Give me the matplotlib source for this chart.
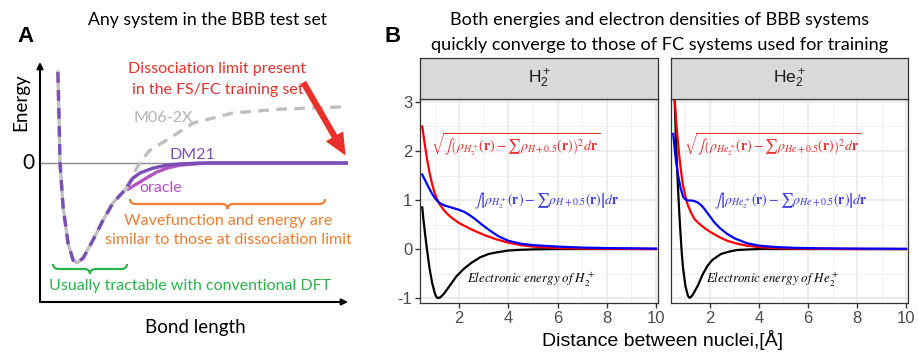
import matplotlib
matplotlib.use("Agg")
import matplotlib.pyplot as plt
from matplotlib.patches import FancyArrowPatch, PathPatch
from matplotlib.path import Path
from matplotlib.transforms import Affine2D

plt.rcParams["mathtext.fontset"] = "stix"
plt.rcParams["axes.unicode_minus"] = False

W, H = 918, 355

# ---- panel A : schematic curves (bond length 0..10, energy in arbitrary units)
well_x = [0.58, 0.62, 0.65, 0.75, 0.91, 1.07, 1.20, 1.40, 1.72, 2.05, 2.37, 2.82]
well_y = [3.03, 1.43, 0.0, -1.47, -2.67, -3.23, -3.33, -3.17, -2.57, -1.90, -1.33, -0.83]
m06_x = [2.82, 3.02, 3.25, 3.57, 4.12, 4.97, 6.27, 7.89, 9.84]
m06_y = [-0.83, -0.40, 0.03, 0.43, 0.77, 1.33, 1.67, 1.80, 1.87]
dm21_x = [2.82, 3.02, 3.25, 3.67, 4.12, 4.55, 5.19, 10.0]
dm21_y = [-0.80, -0.50, -0.33, -0.17, -0.07, -0.03, 0.0, 0.0]
oracle_x = [2.82, 3.02, 3.25, 3.57, 3.80, 4.12, 4.55, 5.42, 10.0]
oracle_y = [-0.90, -0.77, -0.63, -0.43, -0.30, -0.17, -0.07, 0.0, 0.0]

# ---- panel B : H2+ facet
h2_red_x = [0.5, 0.6, 0.7, 0.8, 0.9, 1.0, 1.1, 1.2, 1.4, 1.6, 1.8, 2.0, 2.5, 3.0, 3.5,
            4.0, 4.5, 5.0, 6.0, 7.0, 8.0, 10.0]
h2_red_y = [2.5, 2.15, 1.82, 1.55, 1.33, 1.15, 1.02, 0.92, 0.78, 0.68, 0.60, 0.53, 0.40,
            0.29, 0.20, 0.13, 0.08, 0.05, 0.02, 0.01, 0.005, 0.0]
h2_blue_x = [0.5, 0.6, 0.7, 0.8, 0.9, 1.0, 1.1, 1.2, 1.4, 1.6, 1.8, 2.0, 2.2, 2.4, 2.6,
             2.8, 3.0, 3.3, 3.6, 4.0, 4.5, 5.0, 6.0, 7.0, 8.0, 10.0]
h2_blue_y = [1.52, 1.42, 1.32, 1.22, 1.13, 1.05, 0.99, 0.94, 0.89, 0.86, 0.83, 0.80, 0.76,
             0.70, 0.63, 0.55, 0.47, 0.36, 0.26, 0.17, 0.11, 0.08, 0.05, 0.03, 0.02, 0.01]
h2_black_x = [0.5, 0.55, 0.6, 0.65, 0.7, 0.75, 0.8, 0.9, 1.0, 1.05, 1.1, 1.15, 1.25, 1.4,
              1.5, 1.7, 1.9, 2.2, 2.5, 2.85, 3.2, 3.5, 4.0, 4.5, 5.0, 6.0, 8.0, 10.0]
h2_black_y = [0.85, 0.6, 0.38, 0.17, -0.03, -0.22, -0.40, -0.68, -0.88, -0.95, -0.99, -1.0,
              -0.98, -0.90, -0.83, -0.69, -0.55, -0.40, -0.28, -0.17, -0.10, -0.07, -0.03,
              -0.015, -0.007, 0.0, 0.0, 0.0]

# ---- panel B : He2+ facet
he2_red_x = [0.5, 0.56, 0.63, 0.7, 0.76, 0.83, 0.9, 1.0, 1.1, 1.25, 1.37, 1.6, 1.8, 2.04,
             2.4, 2.7, 3.1, 3.5, 4.0, 4.7, 5.5, 6.5, 8.0, 10.0]
he2_red_y = [3.8, 3.07, 2.53, 2.15, 1.84, 1.55, 1.30, 1.07, 0.89, 0.72, 0.61, 0.50, 0.42,
             0.34, 0.24, 0.17, 0.11, 0.07, 0.04, 0.02, 0.01, 0.005, 0.0, 0.0]
he2_blue_x = [0.5, 0.55, 0.6, 0.7, 0.8, 0.9, 1.0, 1.1, 1.23, 1.35, 1.5, 1.65, 1.77, 1.95,
              2.17, 2.4, 2.7, 3.0, 3.5, 4.0, 4.7, 5.5, 6.5, 8.0, 10.0]
he2_blue_y = [2.35, 2.10, 1.85, 1.50, 1.25, 1.07, 1.01, 0.99, 0.99, 0.98, 0.95, 0.89, 0.82,
              0.70, 0.55, 0.43, 0.31, 0.22, 0.12, 0.07, 0.04, 0.025, 0.015, 0.01, 0.005]
he2_black_x = [0.5, 0.55, 0.6, 0.65, 0.7, 0.75, 0.8, 0.85, 0.9, 1.0, 1.1, 1.15, 1.2, 1.3,
               1.5, 1.7, 1.9, 2.1, 2.45, 2.8, 3.1, 3.5, 4.0, 5.0, 10.0]
he2_black_y = [4.4, 3.2, 2.4, 1.75, 1.2, 0.72, 0.30, -0.08, -0.38, -0.76, -0.95, -0.99,
               -0.99, -0.93, -0.75, -0.52, -0.34, -0.22, -0.10, -0.05, -0.02, -0.01, 0.0,
               0.0, 0.0]

x_ticks = [2, 4, 6, 8, 10]
y_ticks = [-1, 0, 1, 2, 3]

RED_A = "#E8312A"
ORANGE = "#EE7D31"
GREEN = "#2BB24C"
PURPLE = "#7A4FB5"
ORACLE = "#B352C0"
GREY = "#BFBFBF"

fig = plt.figure(figsize=(W / 100, H / 100), dpi=100)
px = Affine2D().scale(1 / W, -1 / H).translate(0, 1) + fig.transFigure


def fig_axes(x0, y0, x1, y1):
    return fig.add_axes([x0 / W, 1 - y1 / H, (x1 - x0) / W, (y1 - y0) / H])


def txt(x, y, s, **kw):
    kw.setdefault("ha", "center")
    kw.setdefault("va", "center")
    fig.text(x, y, s, transform=px, **kw)


def brace(x0, x1, y0, depth, color):
    h = depth / 2
    xm = (x0 + x1) / 2
    r = min(6, (x1 - x0) / 6)
    verts = [(x0, y0), (x0, y0 + h), (x0 + r, y0 + h),
             (xm - r, y0 + h),
             (xm, y0 + h), (xm, y0 + depth),
             (xm, y0 + h), (xm + r, y0 + h),
             (x1 - r, y0 + h),
             (x1, y0 + h), (x1, y0)]
    codes = [Path.MOVETO, Path.CURVE3, Path.CURVE3, Path.LINETO, Path.CURVE3, Path.CURVE3,
             Path.CURVE3, Path.CURVE3, Path.LINETO, Path.CURVE3, Path.CURVE3]
    fig.add_artist(PathPatch(Path(verts, codes), transform=px, fill=False,
                             edgecolor=color, lw=1.6))


# ================= panel A =================
sans_a = "Lato"
axA = fig_axes(40, 62, 348, 302)
axA.set_xlim(0, 10)
axA.set_ylim(-4.633, 3.367)
axA.axis("off")
axA.axhline(0, color="#8C8C8C", lw=1.0, zorder=1)
axA.annotate("", xy=(0, 1), xytext=(0, 0), xycoords="axes fraction",
             arrowprops=dict(arrowstyle="-|>", color="black", lw=1.5,
                             shrinkA=0, shrinkB=0, mutation_scale=9))
axA.annotate("", xy=(1, 0), xytext=(0, 0), xycoords="axes fraction",
             arrowprops=dict(arrowstyle="-|>", color="black", lw=1.5,
                             shrinkA=0, shrinkB=0, mutation_scale=9))

axA.plot(m06_x, m06_y, color=GREY, lw=2.4, ls=(0, (3.2, 2.2)), zorder=2)
axA.plot(oracle_x, oracle_y, color=ORACLE, lw=2.4, zorder=3, solid_capstyle="butt")
axA.plot(dm21_x, dm21_y, color=PURPLE, lw=2.4, zorder=4, solid_capstyle="butt")
axA.plot(well_x, well_y, color=GREY, lw=2.4, zorder=5)
axA.plot(well_x, well_y, color=PURPLE, lw=2.4, ls=(0, (3.2, 2.2)), zorder=6)

txt(208, 20, "Any system in the BBB test set", fontsize=12.7, family=sans_a)
txt(26, 37, "A", fontsize=16, weight="bold", family="Liberation Sans")
txt(21, 102, "Energy", fontsize=13.5, rotation=90, family=sans_a)
txt(28, 163, "0", fontsize=15, family=sans_a)
txt(195, 328, "Bond length", fontsize=13.5, family=sans_a)
txt(217, 69, "Dissociation limit present", fontsize=11.5, color=RED_A, family=sans_a)
txt(218, 90, "in the FS/FC training set", fontsize=11.5, color=RED_A, family=sans_a)
txt(163, 118, "M06-2X", fontsize=11.5, color="#B3B3B3", family=sans_a)
txt(192, 155, "DM21", fontsize=11.5, color=PURPLE, family=sans_a)
txt(161, 188, "oracle", fontsize=11.5, color=ORACLE, family=sans_a)
txt(228, 221, "Wavefunction and energy are", fontsize=11.5, color=ORANGE, family=sans_a)
txt(228, 240, "similar to those at dissociation limit", fontsize=11.5, color=ORANGE,
    family=sans_a)
txt(190, 286, "Usually tractable with conventional DFT", fontsize=11.5, color=GREEN,
    family=sans_a)

brace(130, 325, 199, 10, ORANGE)
brace(53, 127, 264, 10, GREEN)

fig.add_artist(FancyArrowPatch((302, 80), (347, 158), transform=px,
                               arrowstyle="simple,head_length=1.0,head_width=0.9,tail_width=0.28",
                               mutation_scale=16, color=RED_A, lw=0))

# ================= panel B =================
sans_b = "Liberation Sans"
txt(660, 20, "Both energies and electron densities of BBB systems", fontsize=13.1,
    family=sans_a)
txt(660, 45, "quickly converge to those of FC systems used for training", fontsize=13.1,
    family=sans_a)
txt(393, 37, "B", fontsize=16, weight="bold", family="Liberation Sans")
txt(662, 340, "Distance between nuclei,[Å]", fontsize=14, family=sans_b)

# (x0, x1, strip, red, blue, black, atom, molecule, x of red / blue / black labels)
facets = [
    (420, 658, r"$\mathregular{H_2^+}$", (h2_red_x, h2_red_y), (h2_blue_x, h2_blue_y),
     (h2_black_x, h2_black_y), "H", "H_2^+", 4.3, 5.55, 4.9),
    (671, 908, r"$\mathregular{He_2^+}$", (he2_red_x, he2_red_y), (he2_blue_x, he2_blue_y),
     (he2_black_x, he2_black_y), "He", "He_2^+", 4.55, 5.3, 4.55),
]

for i, (x0, x1, strip, red, blue, black, atom, mol, xr, xb, xk) in enumerate(facets):
    ax = fig_axes(x0, 99, x1, 303)
    ax.set_xlim(0.41, 10.08)
    ax.set_ylim(-1.1, 3.06)
    ax.set_xticks(x_ticks)
    ax.set_xticks([1, 3, 5, 7, 9], minor=True)
    ax.set_yticks(y_ticks)
    ax.set_yticks([-0.5, 0.5, 1.5, 2.5], minor=True)
    ax.set_axisbelow(True)
    ax.grid(which="major", color="#E8E8E8", lw=1.1)
    ax.grid(which="minor", color="#F1F1F1", lw=0.7)
    ax.tick_params(which="major", length=3.5, width=1, color="#333333",
                   labelcolor="#4D4D4D", labelsize=12, pad=2)
    ax.tick_params(which="minor", length=0)
    for sp in ax.spines.values():
        sp.set_color("#333333")
        sp.set_linewidth(0.9)
    if i > 0:
        ax.tick_params(axis="y", left=False, labelleft=False)
    for lbl in ax.get_xticklabels() + ax.get_yticklabels():
        lbl.set_family(sans_b)

    ax.plot(*black, color="black", lw=1.6)
    ax.plot(*red, color="#FF0000", lw=1.6)
    ax.plot(*blue, color="#0000FF", lw=1.6)

    ax.text(xr, 2.12,
            r"$\sqrt{\int\left(\rho_{%s}(\mathbf{r})-\sum\rho_{%s+0.5}(\mathbf{r})\right)^2 d\mathbf{r}}$"
            % (mol, atom), color="#E53030", fontsize=10, ha="center", va="center")
    ax.text(xb, 0.98,
            r"$\int\left|\rho_{%s}(\mathbf{r})-\sum\rho_{%s+0.5}(\mathbf{r})\right|d\mathbf{r}$"
            % (mol, atom), color="#3A3ADF", fontsize=10, ha="center", va="center")
    ax.text(xk, -0.62, r"$\mathit{Electronic\ energy\ of\ %s}$" % mol,
            color="black", fontsize=9.3, ha="center", va="center")

    sax = fig_axes(x0, 58, x1, 99)
    sax.set_facecolor("#D9D9D9")
    sax.set_xticks([])
    sax.set_yticks([])
    for sp in sax.spines.values():
        sp.set_color("#333333")
        sp.set_linewidth(0.9)
    sax.text(0.5, 0.5, strip, transform=sax.transAxes, ha="center", va="center",
             fontsize=12.5, color="#1A1A1A", family=sans_b)

fig.savefig("out.png", dpi=100)
